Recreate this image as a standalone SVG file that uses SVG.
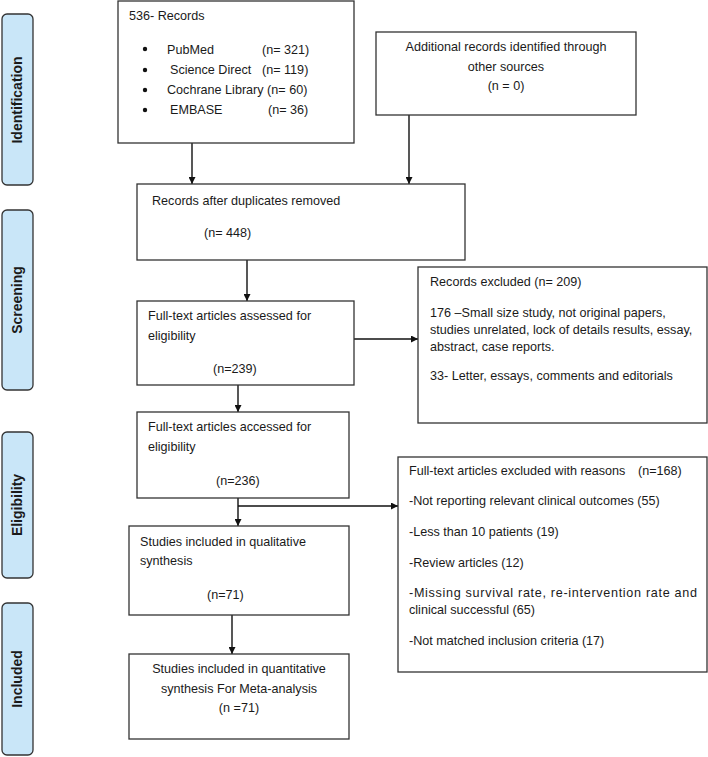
<svg xmlns="http://www.w3.org/2000/svg" width="708" height="757" viewBox="0 0 708 757">
<style>
.box{fill:#fff;stroke:#333;stroke-width:1.3}
.side{fill:#c9e6f8;stroke:#333;stroke-width:1.3}
.t{font-family:"Liberation Sans",Arial,sans-serif;font-size:12.6px;fill:#1a1a1a}
.m{text-anchor:middle}
.s{font-family:"Liberation Sans",Arial,sans-serif;font-size:14px;font-weight:bold;fill:#1a1a1a;text-anchor:middle}
.c{stroke:#111;stroke-width:1.4;fill:none;marker-end:url(#ah)}
</style>
<defs>
<marker id="ah" viewBox="0 0 10 10" refX="10" refY="5" markerWidth="7" markerHeight="7" markerUnits="userSpaceOnUse" orient="auto"><path d="M0,0 L10,5 L0,10 z" fill="#111"/></marker>
</defs>
<g id="stage-identification"><rect class="side" x="2" y="14" width="31" height="171" rx="5"/><text class="s" transform="translate(22,100) rotate(-90)">Identification</text></g>
<g id="stage-screening"><rect class="side" x="2" y="210" width="31" height="180" rx="5"/><text class="s" transform="translate(22,300) rotate(-90)">Screening</text></g>
<g id="stage-eligibility"><rect class="side" x="2" y="432" width="31" height="146" rx="5"/><text class="s" transform="translate(22,505) rotate(-90)">Eligibility</text></g>
<g id="stage-included"><rect class="side" x="2" y="603" width="31" height="152" rx="5"/><text class="s" transform="translate(22,679) rotate(-90)">Included</text></g>
<g id="connectors">
<line class="c" x1="192" y1="143" x2="192" y2="184"/>
<line class="c" x1="409" y1="115" x2="409" y2="184"/>
<line class="c" x1="247" y1="260" x2="247" y2="301"/>
<line class="c" x1="354" y1="339" x2="418" y2="339"/>
<line class="c" x1="238" y1="385" x2="238" y2="412"/>
<line class="c" x1="238" y1="498" x2="238" y2="526"/>
<line class="c" x1="238" y1="506" x2="398" y2="506"/>
<line class="c" x1="232" y1="615" x2="232" y2="654"/>
</g>
<g id="records">
<rect class="box" x="118" y="1" width="236" height="142"/>
<text class="t" x="129" y="20">536- Records</text>
<circle cx="145" cy="49" r="2.2" fill="#111"/><circle cx="145" cy="70" r="2.2" fill="#111"/><circle cx="145" cy="90" r="2.2" fill="#111"/><circle cx="145" cy="110" r="2.2" fill="#111"/>
<text class="t" x="167" y="54">PubMed</text><text class="t" x="262" y="54">(n= 321)</text>
<text class="t" x="170" y="74">Science Direct</text><text class="t" x="262" y="74">(n= 119)</text>
<text class="t" x="167" y="94">Cochrane Library (n= 60)</text>
<text class="t" x="170" y="114">EMBASE</text><text class="t" x="268" y="114">(n= 36)</text>
</g>
<g id="additional">
<rect class="box" x="376" y="32" width="260" height="83"/>
<text class="t m" x="506" y="51">Additional records identified through</text>
<text class="t m" x="506" y="71">other sources</text>
<text class="t m" x="506" y="90">(n = 0)</text>
</g>
<g id="deduplicated">
<rect class="box" x="137" y="184" width="328" height="76"/>
<text class="t" x="152" y="205">Records after duplicates removed</text>
<text class="t" x="204" y="237">(n= 448)</text>
</g>
<g id="assessed">
<rect class="box" x="137" y="301" width="217" height="84"/>
<text class="t" x="148" y="320">Full-text articles assessed for</text>
<text class="t" x="148" y="340">eligibility</text>
<text class="t" x="213" y="373">(n=239)</text>
</g>
<g id="excluded1">
<rect class="box" x="418" y="267" width="289" height="156"/>
<text class="t" x="430" y="286">Records excluded (n= 209)</text>
<text class="t" x="430" y="317">176 –Small size study, not original papers,</text>
<text class="t" x="430" y="334">studies unrelated, lock of details results, essay,</text>
<text class="t" x="430" y="351">abstract, case reports.</text>
<text class="t" x="430" y="380">33- Letter, essays, comments and editorials</text>
</g>
<g id="accessed">
<rect class="box" x="137" y="412" width="212" height="86"/>
<text class="t" x="148" y="431">Full-text articles accessed for</text>
<text class="t" x="148" y="451">eligibility</text>
<text class="t" x="216" y="485">(n=236)</text>
</g>
<g id="qualitative">
<rect class="box" x="129" y="526" width="220" height="89"/>
<text class="t" x="140" y="546">Studies included in qualitative</text>
<text class="t" x="140" y="565">synthesis</text>
<text class="t" x="207" y="599">(n=71)</text>
</g>
<g id="excluded2">
<rect class="box" x="398" y="457" width="309" height="215"/>
<text class="t" x="409" y="475">Full-text articles excluded with reasons</text><text class="t" x="638" y="475">(n=168)</text>
<text class="t" x="409" y="505">-Not reporting relevant clinical outcomes (55)</text>
<text class="t" x="409" y="536">-Less than 10 patients (19)</text>
<text class="t" x="409" y="567">-Review articles (12)</text>
<text class="t" x="409" y="597" textLength="288" lengthAdjust="spacing">-Missing survival rate, re-intervention rate and</text>
<text class="t" x="409" y="614">clinical successful (65)</text>
<text class="t" x="409" y="645">-Not matched inclusion criteria (17)</text>
</g>
<g id="quantitative">
<rect class="box" x="129" y="654" width="220" height="85"/>
<text class="t m" x="239" y="673">Studies included in quantitative</text>
<text class="t m" x="239" y="693">synthesis For Meta-analysis</text>
<text class="t m" x="239" y="712">(n =71)</text>
</g>
</svg>
